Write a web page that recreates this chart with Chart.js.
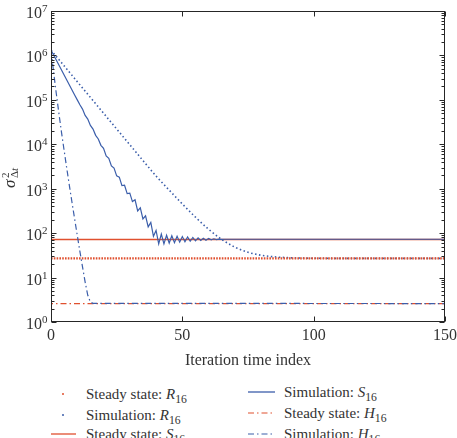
<!DOCTYPE html>
<html>
<head>
<meta charset="utf-8">
<script src="https://cdn.jsdelivr.net/npm/chart.js@4/dist/chart.umd.min.js"></script>
<style>
  body { margin: 0; background: #fff; width: 457px; height: 438px; overflow: hidden; position: relative;
         font-family: "Liberation Serif", "Times New Roman", "DejaVu Serif", serif; color: #333; }
  #wrap { position: absolute; left: 0; top: 0; width: 457px; height: 380px; }
  .item { position: absolute; height: 20px; font-size: 15px; line-height: 20px; white-space: nowrap;
          display: flex; align-items: center; }
  .item svg { display: block; }
  .item i { font-style: italic; }
  .item sub { font-size: 0.78em; vertical-align: -0.3em; line-height: 0; }
</style>
</head>
<body>
<div id="wrap"><canvas id="chart"></canvas></div>

<div class="item" style="left:50px;top:384px">
  <svg width="26" height="20" style="margin-right:10px"><circle cx="13" cy="10" r="1" fill="#e0502f"/></svg>
  <span>Steady state: <i>R</i><sub>16</sub></span>
</div>
<div class="item" style="left:50px;top:405px">
  <svg width="26" height="20" style="margin-right:10px"><circle cx="13" cy="10" r="1" fill="#3b5eaa"/></svg>
  <span>Simulation: <i>R</i><sub>16</sub></span>
</div>
<div class="item" style="left:50px;top:424px">
  <svg width="26" height="20" style="margin-right:10px"><line x1="1" y1="10" x2="26" y2="10" stroke="#e0502f" stroke-width="1.3"/></svg>
  <span>Steady state: <i>S</i><sub>16</sub></span>
</div>
<div class="item" style="left:248px;top:382px">
  <svg width="27" height="20" style="margin-right:9px"><line x1="0" y1="10" x2="27" y2="10" stroke="#3b5eaa" stroke-width="1.3"/></svg>
  <span>Simulation: <i>S</i><sub>16</sub></span>
</div>
<div class="item" style="left:248px;top:403px">
  <svg width="27" height="20" style="margin-right:9px"><line x1="0" y1="10" x2="27" y2="10" stroke="#e0502f" stroke-width="1.2" stroke-dasharray="6 3 1.5 3"/></svg>
  <span>Steady state: <i>H</i><sub>16</sub></span>
</div>
<div class="item" style="left:248px;top:424px">
  <svg width="27" height="20" style="margin-right:9px"><line x1="0" y1="10" x2="27" y2="10" stroke="#3b5eaa" stroke-width="1.2" stroke-dasharray="6 3 1.5 3"/></svg>
  <span>Simulation: <i>H</i><sub>16</sub></span>
</div>

<script>
const iterTicks = [0, 50, 100, 150];
const yDecades = [0, 1, 2, 3, 4, 5, 6, 7];

const steadyR16 = 27;
const steadyS16 = 72;
const steadyH16 = 2.6;

// simulation S16, iterations 0..66, then flat to 150
const simS16 = [1320000, 1020000, 787000, 608000, 470000, 363000, 281000, 217000, 167000, 129000, 100000,
  77300, 61800, 44600, 36900, 26600, 22000, 15900, 13200, 9480, 8130,
  5470, 4850, 3270, 2900, 1950, 1820, 1170, 1200, 776, 794,
  513, 562, 316, 372, 209, 245, 138, 174, 85, 115,
  57.5, 95.5, 57.5, 89.5, 59.8, 87.5, 61.2, 85.5, 62.7, 83.6,
  64.2, 81.7, 65.7, 79.8, 67.0, 78.3, 68.3, 77.0, 69.5, 75.7,
  70.5, 74.7, 71.5, 73.6, 72.3, 72.8];
const simS16Last = 72.8;

// simulation H16, iterations 0..16, then flat to 150
const simH16 = [1320000, 417000, 141000, 50100, 18600, 7240, 2880, 1170, 490, 209, 89, 38.9, 17.4, 7.9, 4.0, 2.8, 2.63];
const simH16Last = 2.6;

// simulation R16, read every few iterations
const simR16Iter = [0, 5, 10, 15, 20, 25, 30, 35, 40, 45, 50, 55, 60, 65, 70, 75, 80, 85, 90, 95, 100, 110, 120, 150];
const simR16 = [1320000, 582000, 257000, 113500, 50100, 22100, 9770, 4315, 1930, 929, 454, 229, 122.5, 72.2,
  48.4, 37.1, 31.8, 29.3, 28.1, 27.5, 27.25, 27.05, 27.0, 27.0];

const red = '#e0502f';
const blue = '#3b5eaa';
const serif = '"Liberation Serif", "Times New Roman", "DejaVu Serif", serif';
const xEnd = iterTicks[iterTicks.length - 1];

const flat = v => [{x: 0, y: v}, {x: xEnd, y: v}];

const frameAndTicks = {
  id: 'frameAndTicks',
  afterDatasetsDraw(chart) {
    const {ctx, chartArea: a, scales: {x, y}} = chart;
    const L = Math.round(a.left) + 0.5, R = Math.round(a.right) - 0.5;
    const T = Math.round(a.top) + 0.5, B = Math.round(a.bottom) - 0.5;
    ctx.save();
    ctx.strokeStyle = '#262626';
    ctx.lineWidth = 1;
    ctx.strokeRect(L, T, R - L, B - T);
    ctx.beginPath();
    for (let e = 0; e < 7; e++) {
      for (let m = 1; m <= 9; m++) {
        const py = Math.round(y.getPixelForValue(m * Math.pow(10, e))) + 0.5;
        const len = m === 1 ? 5 : 3;
        ctx.moveTo(L, py); ctx.lineTo(L + len, py);
        ctx.moveTo(R, py); ctx.lineTo(R - len, py);
      }
    }
    iterTicks.forEach(v => {
      const px = Math.round(x.getPixelForValue(v)) + 0.5;
      ctx.moveTo(px, B); ctx.lineTo(px, B - 5);
      ctx.moveTo(px, T); ctx.lineTo(px, T + 5);
    });
    ctx.stroke();

    // y tick labels 10^e
    ctx.fillStyle = '#333';
    ctx.textBaseline = 'alphabetic';
    yDecades.forEach(e => {
      const py = y.getPixelForValue(Math.pow(10, e));
      ctx.font = '16px ' + serif;
      ctx.textAlign = 'right';
      ctx.fillText('10', 42, py + 7);
      ctx.font = '11px ' + serif;
      ctx.textAlign = 'left';
      ctx.fillText(String(e), 42, py + 1);
    });

    // y title: sigma^2_{Delta t}, rotated
    ctx.rotate(-Math.PI / 2);
    ctx.textAlign = 'left';
    ctx.font = 'italic 17px ' + serif;
    ctx.fillText('σ', -188, 15);
    ctx.font = '11px ' + serif;
    ctx.fillText('2', -178, 9);
    ctx.fillText('Δ', -178, 18);
    const w = ctx.measureText('Δ').width;
    ctx.font = 'italic 11px ' + serif;
    ctx.fillText('t', -178 + w, 18);
    ctx.restore();
  }
};

new Chart(document.getElementById('chart'), {
  type: 'line',
  data: {
    datasets: [
      {
        label: 'Simulation: S16',
        data: simS16.map((v, i) => ({x: i, y: v})).concat({x: xEnd, y: simS16Last}),
        borderColor: blue, borderWidth: 1.2, pointRadius: 0,
      },
      {
        label: 'Simulation: H16',
        data: simH16.map((v, i) => ({x: i, y: v})).concat({x: xEnd, y: simH16Last}),
        borderColor: blue, borderWidth: 1.2, pointRadius: 0, borderDash: [6, 3, 1.5, 3],
      },
      {
        label: 'Steady state: R16',
        data: flat(steadyR16),
        borderColor: red, borderWidth: 2.2, pointRadius: 0, borderDash: [1.6, 1.2],
      },
      {
        label: 'Simulation: R16',
        data: simR16.map((v, i) => ({x: simR16Iter[i], y: v})),
        borderColor: blue, borderWidth: 1.6, pointRadius: 0, borderDash: [1.5, 2.5],
        cubicInterpolationMode: 'monotone',
      },
      {
        label: 'Steady state: S16',
        data: flat(steadyS16),
        borderColor: red, borderWidth: 1.3, pointRadius: 0,
      },
      {
        label: 'Steady state: H16',
        data: flat(steadyH16),
        borderColor: red, borderWidth: 1.2, pointRadius: 0, borderDash: [6, 3, 1.5, 3], borderDashOffset: 4,
      },
    ],
  },
  options: {
    responsive: true,
    maintainAspectRatio: false,
    animation: false,
    layout: { padding: { top: 11, right: 12, left: 0, bottom: 0 } },
    plugins: { legend: { display: false }, tooltip: { enabled: false } },
    scales: {
      x: {
        type: 'linear', min: 0, max: xEnd,
        ticks: { stepSize: 50, color: '#333', font: { family: serif, size: 16 }, padding: 4, maxRotation: 0 },
        grid: { display: false, drawTicks: false },
        border: { display: false },
        title: { display: true, text: 'Iteration time index', color: '#333',
                 font: { family: serif, size: 16 }, padding: { top: 0, bottom: 10 } },
        afterFit: s => { s.height = 58; s.paddingLeft = 0; s.paddingRight = 0; },
      },
      y: {
        type: 'logarithmic', min: 1, max: 1e7,
        ticks: { display: false },
        grid: { display: false, drawTicks: false },
        border: { display: false },
        afterFit: s => { s.width = 51; },
      },
    },
  },
  plugins: [frameAndTicks],
});
</script>
</body>
</html>
